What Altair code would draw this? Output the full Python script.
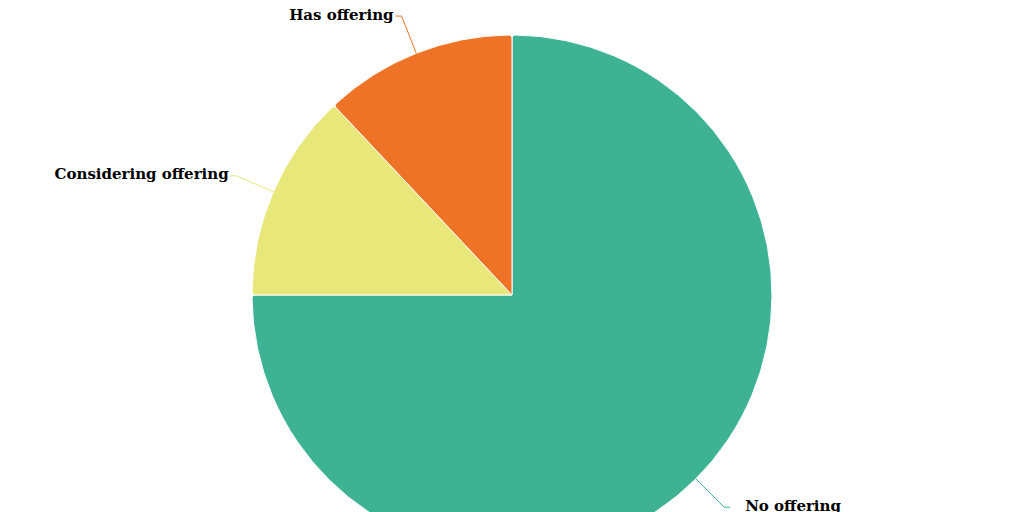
import altair as alt
import pandas as pd

categories = ["No offering", "Considering offering", "Has offering"]
values = [75, 13, 12]
colors = ["#3db394", "#e7e77a", "#ee7327"]
order = [0, 1, 2]

df = pd.DataFrame({"category": categories, "value": values, "order": order})

W, H = 1008, 574
R = 260
L1 = 40
L2 = 6
cx, cy = W / 2, H / 2

base = alt.Chart(df)
color = alt.Color("category:N", scale=alt.Scale(domain=categories, range=colors), legend=None)

pie = base.mark_arc(radius=R, cornerRadius=3, stroke="white", strokeWidth=1).encode(
    theta=alt.Theta("value:Q", stack=True),
    order=alt.Order("order:Q"),
    color=color,
)

geo = (
    base.transform_joinaggregate(total="sum(value)")
    .transform_window(cum="sum(value)", sort=[alt.SortField("order")], frame=[None, 0])
    .transform_calculate(mid="(datum.cum - datum.value/2) / datum.total * 2 * PI")
    .transform_calculate(s="sin(datum.mid)")
    .transform_calculate(c="cos(datum.mid)")
    .transform_calculate(ax=f"{cx} + {R} * datum.s")
    .transform_calculate(ay=f"{cy} - {R} * datum.c")
    .transform_calculate(bx=f"{cx} + {R + L1} * datum.s")
    .transform_calculate(by=f"{cy} - {R + L1} * datum.c")
    .transform_calculate(side="datum.s >= 0 ? 1 : -1")
    .transform_calculate(ex=f"datum.bx + {L2} * datum.side")
    .transform_calculate(tx="datum.ex + (datum.side > 0 ? 15 : -2)")
)

rule1 = geo.mark_rule(strokeWidth=1).encode(
    x=alt.X("ax:Q", scale=None),
    y=alt.Y("ay:Q", scale=None),
    x2="bx:Q",
    y2="by:Q",
    color=color,
)
rule2 = geo.mark_rule(strokeWidth=1).encode(
    x=alt.X("bx:Q", scale=None),
    y=alt.Y("by:Q", scale=None),
    x2="ex:Q",
    y2="by:Q",
    color=color,
)

txt_style = dict(font="DejaVu Serif", fontWeight="bold", fontSize=15, color="#000000",
                 baseline="middle", dy=-1.5)
text_r = geo.transform_filter("datum.side > 0").mark_text(align="left", **txt_style).encode(
    x=alt.X("tx:Q", scale=None),
    y=alt.Y("by:Q", scale=None),
    text="category:N",
)
text_l = geo.transform_filter("datum.side < 0").mark_text(align="right", **txt_style).encode(
    x=alt.X("tx:Q", scale=None),
    y=alt.Y("by:Q", scale=None),
    text="category:N",
)

chart = (
    alt.layer(pie, rule1, rule2, text_r, text_l)
    .properties(width=W, height=H, padding=0, autosize=alt.AutoSizeParams(type="none"))
    .configure_view(stroke=None)
)

chart.save("out.html", embed_options={"renderer": "svg", "actions": False})
